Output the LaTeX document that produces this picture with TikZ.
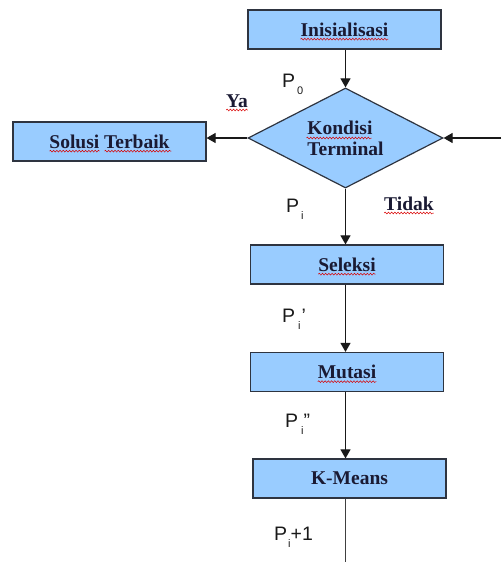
\documentclass[tikz,border=0pt]{standalone}
\usepackage{fontspec}
\setmainfont{Liberation Serif}
\newfontfamily\labfont{Liberation Sans}
\usetikzlibrary{shapes.geometric,arrows.meta,calc,decorations.pathmorphing}
\definecolor{boxfill}{HTML}{99CCFF}
\definecolor{boxline}{HTML}{2E3440}
\definecolor{boxtext}{HTML}{1A1A33}
\begin{document}
\begin{tikzpicture}[x=1pt,y=-1pt,
  box/.style={draw=boxline, line width=1.2pt, fill=boxfill, minimum width=193pt, minimum height=39pt, inner sep=0pt, font=\fontsize{19.5}{22}\selectfont\bfseries, text=boxtext},
  dec/.style={diamond, draw=boxline, line width=1.2pt, fill=boxfill, minimum width=195pt, minimum height=100pt, inner sep=0pt, aspect=1.95, align=left, font=\fontsize{19.5}{21}\selectfont\bfseries, text=boxtext},
  lbl/.style={font=\labfont\fontsize{19.5}{20}\selectfont, inner sep=0pt, text=black!90},
  yn/.style={font=\fontsize{19.5}{22}\selectfont\bfseries, inner sep=0pt, text=boxtext},
  flow/.style={draw=black!90, line width=1.1pt, -{Triangle[length=9pt,width=10pt]}},
  plain/.style={draw=black!75, line width=1.1pt},
  wavy/.style={draw=red!85!black, line width=0.5pt, decorate, decoration={snake,amplitude=0.9pt,segment length=3.2pt}}
]
\useasboundingbox (0,0) rectangle (501,562);
\newcommand\sub[1]{\raisebox{-7.5pt}{\fontsize{11}{11}\selectfont #1}}
% boxes
\node[box] (ini) at (344.5,29.5) {Inisialisasi};
\node[dec] (kon) at (345.5,138) {Kondisi\\Terminal};
\node[box] (sol) at (109.5,141.5) {Solusi Terbaik};
\node[box] (sel) at (347,264.5) {Seleksi};
\node[box] (mut) at (347,372) {Mutasi};
\node[box] (km) at (349.5,478.5) {K-Means};
\coordinate (fb) at (501,138);
\coordinate (end) at (345.5,562);
% connectors
\draw[flow] (kon.north |- ini.south) -- (kon.north);
\draw[flow] (kon.west) -- (kon.west -| sol.east);
\draw[flow] (fb) -- (kon.east);
\draw[flow] (kon.south) -- (kon.south |- sel.north);
\draw[flow] (kon.south |- sel.south) -- (kon.south |- mut.north);
\draw[flow] (kon.south |- mut.south) -- (kon.south |- km.north);
\draw[plain] (kon.south |- km.south) -- (end);
% labels
\node[lbl, anchor=base west] (p0) at (282,87) {P\hspace{2pt}\sub{0}};
\node[yn, anchor=base] (ya) at (237,107) {Ya};
\node[yn, anchor=base] (tidak) at (409,210) {Tidak};
\node[lbl, anchor=base west] (pi) at (286,212) {P\hspace{2pt}\sub{i}};
\node[lbl, anchor=base west] (pi1) at (282,322) {P\hspace{3pt}\sub{i}\hspace{1pt}’};
\node[lbl, anchor=base west] (pi2) at (285,427) {P\hspace{3pt}\sub{i}”};
\node[lbl, anchor=base west] (pi3) at (274,540) {P\hspace{1pt}\sub{i}+1};
% spell-check underlines
\draw[wavy] ($(ini.text)+(0,3)$) -- ($(ini.text)!2!(ini.base)+(0,3)$);
\draw[wavy] ($(sel.text)+(0,3)$) -- ($(sel.text)!2!(sel.base)+(0,3)$);
\draw[wavy] ($(mut.text)+(0,3)$) -- ($(mut.text)!2!(mut.base)+(0,3)$);
\draw[wavy] ($(ya.text)+(0,3)$) -- ($(ya.text)!2!(ya.base)+(0,3)$);
\draw[wavy] ($(tidak.text)+(0,3)$) -- ($(tidak.text)!2!(tidak.base)+(0,3)$);
\draw[wavy] ($(sol.text)+(0,3)$) -- ++(50,0);
\draw[wavy] ($(sol.text)+(55,3)$) -- ++(67,0);
\draw[wavy] ($(kon.center)+(-39,0)$) -- ++(65,0);
\end{tikzpicture}
\end{document}
